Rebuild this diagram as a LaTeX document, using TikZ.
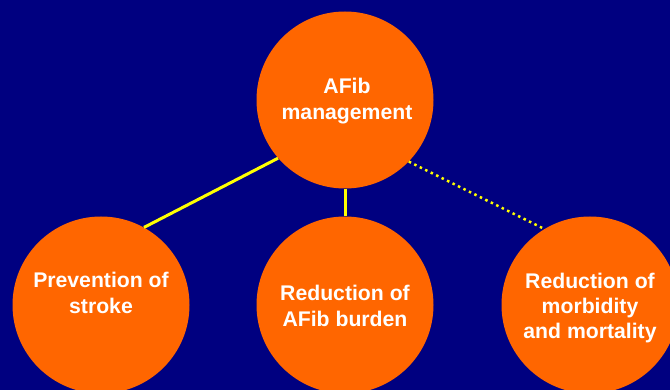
\documentclass[tikz,border=0pt]{standalone}
\usepackage{fontspec}
\setmainfont{Liberation Sans}
\definecolor{bgnavy}{HTML}{000080}
\definecolor{disc}{HTML}{FF6600}
\definecolor{link}{HTML}{FFFF00}
\begin{document}
\begin{tikzpicture}[x=1pt,y=-1pt,
  bubble/.style={circle,fill=disc,draw=none,minimum size=177pt,inner sep=0pt},
  caption/.style={text=white,font=\bfseries\fontsize{21.2}{25.3}\selectfont,align=center,inner sep=0pt},
  solidlink/.style={draw=link,line width=3pt},
  dotlink/.style={draw=link,line width=2.5pt,dash pattern=on 2.5pt off 3.6pt}]
\useasboundingbox (0,0) rectangle (670,390);
\clip (0,0) rectangle (670,390);
\fill[bgnavy] (0,0) rectangle (670,390);
\node[bubble] (top) at (345,100) {};
\node[bubble] (left) at (101,305) {};
\node[bubble] (mid) at (345,305) {};
\node[bubble] (right) at (590,305) {};
\draw[solidlink] (top.221.7) -- (left.61.4);
\draw[solidlink] (top.south) -- (mid.north);
\draw[dotlink] (top.-44.5) -- (right.121.2);
\node[caption] (ttop) at (347,101) {AFib\\management};
\node[caption] (tleft) at (101,293) {Prevention of\\stroke};
\node[caption] (tmid) at (345,306) {Reduction of\\AFib burden};
\node[caption] (tright) at (590,308) {Reduction of\\morbidity\\and mortality};
\end{tikzpicture}
\end{document}
